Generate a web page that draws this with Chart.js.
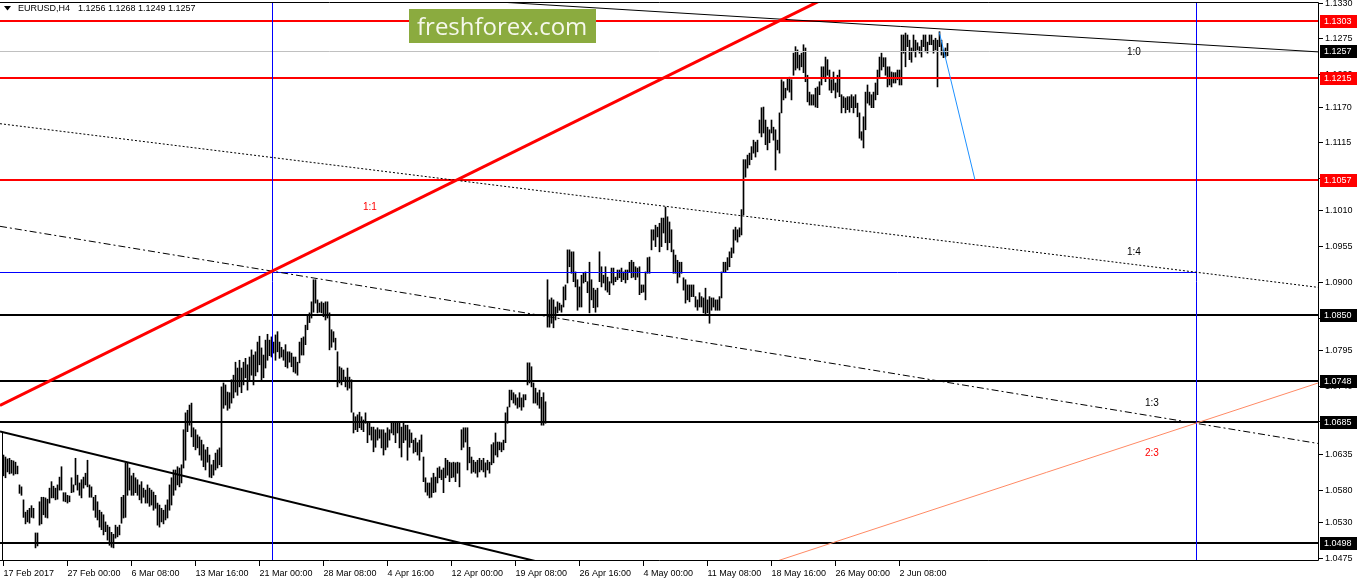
<!DOCTYPE html>
<html>
<head>
<meta charset="utf-8">
<script src="https://cdn.jsdelivr.net/npm/chart.js@4.4.0/dist/chart.umd.min.js"></script>
<style>
html,body{margin:0;padding:0;background:#fff;}
#wrap{width:1358px;height:584px;position:relative;}
</style>
</head>
<body>
<div id="wrap"><canvas id="c" width="1358" height="584"></canvas></div>
<script>
// EURUSD H4, one entry per bar (17 Feb 2017 16:00 ... 8 Jun 2017)
var highs = [
1.0634,1.0631,1.0628,1.0629,1.0626,1.0625,1.0623,1.0617,1.0588,1.0585,
1.0565,1.0546,1.0549,1.0552,1.0556,1.0552,1.0514,1.0514,1.0562,1.0569,
1.0569,1.0568,1.0566,1.0583,1.0593,1.0586,1.0583,1.0588,1.0600,1.0616,
1.0576,1.0576,1.0572,1.0571,1.0599,1.0588,1.0629,1.0603,1.0591,1.0596,
1.0600,1.0606,1.0626,1.0588,1.0585,1.0569,1.0572,1.0562,1.0549,1.0546,
1.0542,1.0531,1.0526,1.0523,1.0515,1.0512,1.0526,1.0523,1.0526,1.0569,
1.0572,1.0622,1.0622,1.0614,1.0602,1.0606,1.0599,1.0596,1.0588,1.0593,
1.0583,1.0580,1.0588,1.0583,1.0580,1.0577,1.0572,1.0560,1.0557,1.0552,
1.0549,1.0557,1.0565,1.0588,1.0599,1.0611,1.0611,1.0616,1.0614,1.0619,
1.0673,1.0699,1.0703,1.0711,1.0714,1.0676,1.0673,1.0665,1.0662,1.0657,
1.0650,1.0642,1.0646,1.0634,1.0619,1.0626,1.0637,1.0642,1.0645,1.0739,
1.0745,1.0742,1.0731,1.0730,1.0750,1.0757,1.0777,1.0768,1.0780,1.0768,
1.0777,1.0783,1.0773,1.0785,1.0796,1.0788,1.0793,1.0808,1.0817,1.0799,
1.0788,1.0811,1.0820,1.0811,1.0816,1.0808,1.0819,1.0824,1.0808,1.0800,
1.0796,1.0804,1.0793,1.0793,1.0791,1.0785,1.0785,1.0777,1.0808,1.0814,
1.0816,1.0834,1.0850,1.0853,1.0870,1.0904,1.0904,1.0873,1.0868,1.0870,
1.0868,1.0870,1.0870,1.0853,1.0827,1.0824,1.0814,1.0793,1.0770,1.0768,
1.0765,1.0754,1.0768,1.0754,1.0750,1.0699,1.0693,1.0696,1.0700,1.0693,
1.0688,1.0699,1.0685,1.0683,1.0677,1.0677,1.0673,1.0676,1.0673,1.0673,
1.0673,1.0668,1.0676,1.0673,1.0683,1.0685,1.0685,1.0683,1.0683,1.0677,
1.0683,1.0680,1.0680,1.0673,1.0668,1.0657,1.0660,1.0653,1.0657,1.0665,
1.0631,1.0599,1.0591,1.0591,1.0599,1.0606,1.0600,1.0614,1.0616,1.0611,
1.0614,1.0629,1.0626,1.0623,1.0622,1.0623,1.0622,1.0623,1.0622,1.0673,
1.0676,1.0676,1.0676,1.0646,1.0631,1.0626,1.0623,1.0626,1.0629,1.0626,
1.0629,1.0622,1.0626,1.0623,1.0650,1.0653,1.0668,1.0654,1.0654,1.0653,
1.0657,1.0699,1.0708,1.0734,1.0734,1.0730,1.0727,1.0722,1.0730,1.0722,
1.0727,1.0727,1.0776,1.0776,1.0770,1.0745,1.0737,1.0730,1.0734,1.0723,
1.0730,1.0716,1.0904,1.0873,1.0876,1.0873,1.0862,1.0870,1.0868,1.0865,
1.0893,1.0896,1.0950,1.0950,1.0947,1.0947,1.0916,1.0904,1.0893,1.0911,
1.0914,1.0916,1.0901,1.0931,1.0904,1.0891,1.0888,1.0891,1.0947,1.0924,
1.0911,1.0924,1.0908,1.0901,1.0922,1.0922,1.0908,1.0919,1.0919,1.0922,
1.0916,1.0919,1.0919,1.0931,1.0934,1.0931,1.0924,1.0922,1.0924,1.0896,
1.0896,1.0916,1.0938,1.0939,1.0981,1.0981,1.0988,1.0985,1.0991,1.0999,
1.0999,1.1016,1.1001,1.0993,1.0981,1.0950,1.0942,1.0934,1.0931,1.0931,
1.0907,1.0904,1.0896,1.0896,1.0896,1.0896,1.0878,1.0873,1.0884,1.0878,
1.0876,1.0891,1.0873,1.0878,1.0876,1.0876,1.0873,1.0873,1.0878,1.0916,
1.0931,1.0931,1.0938,1.0947,1.0953,1.0981,1.0985,1.0981,1.0984,1.1012,
1.1089,1.1089,1.1096,1.1099,1.1109,1.1119,1.1116,1.1119,1.1150,1.1169,
1.1170,1.1150,1.1139,1.1135,1.1150,1.1139,1.1135,1.1119,1.1161,1.1212,
1.1209,1.1199,1.1215,1.1216,1.1212,1.1253,1.1263,1.1258,1.1250,1.1253,
1.1266,1.1261,1.1219,1.1193,1.1189,1.1189,1.1199,1.1201,1.1209,1.1232,
1.1232,1.1247,1.1243,1.1227,1.1212,1.1224,1.1207,1.1219,1.1227,1.1189,
1.1186,1.1184,1.1186,1.1186,1.1189,1.1186,1.1189,1.1176,1.1161,1.1132,
1.1155,1.1193,1.1204,1.1193,1.1189,1.1193,1.1207,1.1227,1.1247,1.1253,
1.1246,1.1246,1.1232,1.1232,1.1224,1.1223,1.1223,1.1227,1.1227,1.1281,
1.1281,1.1284,1.1281,1.1273,1.1261,1.1281,1.1273,1.1269,1.1263,1.1273,
1.1281,1.1281,1.1270,1.1281,1.1281,1.1273,1.1276,1.1273,1.1286,1.1273,
1.1258,1.1261,1.1268
];
var lows = [
1.0602,1.0599,1.0608,1.0605,1.0606,1.0603,1.0605,1.0605,1.0575,1.0572,
1.0538,1.0528,1.0531,1.0529,1.0538,1.0537,1.0491,1.0494,1.0526,1.0528,
1.0542,1.0538,1.0537,1.0560,1.0568,1.0568,1.0565,1.0566,1.0580,1.0580,
1.0563,1.0562,1.0560,1.0562,1.0576,1.0577,1.0588,1.0580,1.0572,1.0568,
1.0583,1.0588,1.0585,1.0569,1.0569,1.0549,1.0538,1.0534,1.0523,1.0519,
1.0511,1.0516,1.0503,1.0495,1.0492,1.0491,1.0506,1.0508,1.0511,1.0529,
1.0537,1.0538,1.0572,1.0580,1.0572,1.0572,1.0576,1.0572,1.0565,1.0560,
1.0569,1.0560,1.0560,1.0555,1.0557,1.0549,1.0552,1.0526,1.0523,1.0531,
1.0528,1.0534,1.0537,1.0549,1.0557,1.0572,1.0580,1.0588,1.0585,1.0591,
1.0614,1.0626,1.0670,1.0680,1.0662,1.0647,1.0642,1.0645,1.0634,1.0626,
1.0616,1.0611,1.0623,1.0600,1.0599,1.0603,1.0611,1.0614,1.0619,1.0616,
1.0706,1.0711,1.0703,1.0706,1.0714,1.0722,1.0731,1.0726,1.0739,1.0730,
1.0742,1.0753,1.0734,1.0747,1.0757,1.0742,1.0756,1.0762,1.0773,1.0750,
1.0753,1.0768,1.0780,1.0787,1.0785,1.0791,1.0780,1.0793,1.0783,1.0785,
1.0780,1.0770,1.0768,1.0777,1.0770,1.0762,1.0760,1.0757,1.0776,1.0788,
1.0788,1.0804,1.0827,1.0838,1.0845,1.0854,1.0868,1.0853,1.0854,1.0853,
1.0847,1.0842,1.0845,1.0796,1.0800,1.0808,1.0796,1.0739,1.0745,1.0742,
1.0747,1.0739,1.0734,1.0737,1.0700,1.0668,1.0673,1.0670,1.0676,1.0673,
1.0670,1.0683,1.0653,1.0665,1.0657,1.0639,1.0646,1.0657,1.0660,1.0645,
1.0634,1.0642,1.0646,1.0657,1.0668,1.0665,1.0653,1.0668,1.0645,1.0631,
1.0653,1.0657,1.0626,1.0646,1.0653,1.0637,1.0639,1.0634,1.0626,1.0639,
1.0593,1.0577,1.0572,1.0568,1.0569,1.0576,1.0577,1.0591,1.0599,1.0596,
1.0576,1.0599,1.0603,1.0593,1.0599,1.0600,1.0593,1.0606,1.0585,1.0642,
1.0646,1.0654,1.0611,1.0622,1.0606,1.0608,1.0606,1.0600,1.0608,1.0611,
1.0608,1.0600,1.0611,1.0606,1.0619,1.0622,1.0634,1.0631,1.0642,1.0639,
1.0642,1.0653,1.0683,1.0708,1.0719,1.0714,1.0711,1.0706,1.0708,1.0703,
1.0708,1.0719,1.0742,1.0745,1.0739,1.0714,1.0714,1.0711,1.0706,1.0680,
1.0680,1.0683,1.0831,1.0831,1.0837,1.0830,1.0842,1.0853,1.0857,1.0854,
1.0862,1.0873,1.0899,1.0924,1.0914,1.0901,1.0893,1.0857,1.0862,1.0862,
1.0899,1.0901,1.0884,1.0853,1.0873,1.0861,1.0854,1.0862,1.0901,1.0893,
1.0899,1.0888,1.0885,1.0881,1.0899,1.0896,1.0901,1.0904,1.0907,1.0901,
1.0904,1.0899,1.0904,1.0916,1.0907,1.0908,1.0904,1.0908,1.0881,1.0884,
1.0885,1.0873,1.0914,1.0914,1.0950,1.0965,1.0955,1.0970,1.0947,1.0955,
1.0976,1.0961,1.0950,1.0961,1.0947,1.0914,1.0914,1.0899,1.0908,1.0914,
1.0888,1.0868,1.0873,1.0870,1.0878,1.0878,1.0862,1.0857,1.0862,1.0862,
1.0853,1.0850,1.0853,1.0837,1.0857,1.0862,1.0857,1.0857,1.0857,1.0876,
1.0916,1.0916,1.0919,1.0924,1.0938,1.0945,1.0965,1.0962,1.0970,1.0973,
1.1004,1.1062,1.1076,1.1081,1.1089,1.1099,1.1093,1.1101,1.1130,1.1124,
1.1130,1.1112,1.1104,1.1115,1.1130,1.1119,1.1073,1.1104,1.1099,1.1161,
1.1181,1.1184,1.1196,1.1193,1.1181,1.1219,1.1227,1.1230,1.1227,1.1232,
1.1223,1.1209,1.1178,1.1173,1.1173,1.1173,1.1170,1.1169,1.1189,1.1204,
1.1216,1.1209,1.1219,1.1196,1.1192,1.1196,1.1184,1.1193,1.1186,1.1161,
1.1169,1.1161,1.1166,1.1162,1.1169,1.1161,1.1169,1.1155,1.1122,1.1119,
1.1107,1.1135,1.1176,1.1173,1.1169,1.1169,1.1181,1.1189,1.1216,1.1227,
1.1232,1.1219,1.1201,1.1204,1.1201,1.1207,1.1207,1.1212,1.1204,1.1204,
1.1253,1.1232,1.1263,1.1243,1.1239,1.1255,1.1247,1.1258,1.1253,1.1247,
1.1263,1.1255,1.1253,1.1266,1.1266,1.1253,1.1258,1.1201,1.1263,1.1250,
1.1246,1.1247,1.1249
];
var lastBar = [1.1256, 1.1268, 1.1249, 1.1257]; // open high low close
// one time label every 32 bars
var timeLabels = ['17 Feb 2017','27 Feb 00:00','6 Mar 08:00','13 Mar 16:00','21 Mar 00:00',
  '28 Mar 08:00','4 Apr 16:00','12 Apr 00:00','19 Apr 08:00','26 Apr 16:00','4 May 00:00',
  '11 May 08:00','18 May 16:00','26 May 00:00','2 Jun 08:00'];
var priceTicks = [1.1330,1.1275,1.1220,1.1170,1.1115,1.1060,1.1010,1.0955,1.0900,1.0845,
  1.0795,1.0740,1.0685,1.0635,1.0580,1.0530,1.0475];
var redLevels = [1.1303, 1.1215, 1.1057];
var blackLevels = [1.0850, 1.0748, 1.0685, 1.0498];
var blueLevel = 1.09159;
var blueMarks = [134.25, 596.25]; // bar index of the two vertical lines
var leftMark = [-0.5, 1.0669]; // short vertical at the left edge, from this price down
// trendlines, two points each [bar index, price]
var redTrend = [[0, 1.07130], [400, 1.13212]];
var line10 = [[300, 1.13220], [600, 1.12657]];
var line14 = [[0, 1.11437], [600, 1.09142]];
var line13 = [[0, 1.09854], [600, 1.06809]];
var lowTrend = [[0, 1.06690], [200, 1.05199]];
var line23 = [[400, 1.04842], [600, 1.06869]];
var forecast = [[467.9, 1.12851], [485.75, 1.10576]];
var fanNames = ['1:0', '1:4', '1:3', '2:3', '1:1'];
var fanPos = [[561.75, 1.12548], [561.75, 1.09467], [570.75, 1.07141], [570.75, 1.06371], [179.75, 1.10160]];

var FONT = '9px "Liberation Sans", Arial, sans-serif';

var overlay = {
	id: 'overlay',
	afterDatasetsDraw: function(chart) {
		var ctx = chart.ctx, a = chart.chartArea;
		var xs = chart.scales.x, ys = chart.scales.y;
		function X(v){ return xs.getPixelForValue(v); }
		function Y(v){ return ys.getPixelForValue(v); }
		function hline(p, color, w, x2) {
			var y = Math.round(Y(p)) + (w % 2 ? 0.5 : 0);
			ctx.strokeStyle = color; ctx.lineWidth = w; ctx.setLineDash([]);
			ctx.beginPath(); ctx.moveTo(a.left, y); ctx.lineTo(x2 || a.right, y); ctx.stroke();
		}
		function ray(pts, color, w, dash) {
			var x1 = X(pts[0][0]), y1 = Y(pts[0][1]), x2 = X(pts[1][0]), y2 = Y(pts[1][1]);
			var k = (y2 - y1) / (x2 - x1);
			ctx.strokeStyle = color; ctx.lineWidth = w; ctx.setLineDash(dash || []);
			ctx.beginPath();
			ctx.moveTo(a.left, y1 + k * (a.left - x1));
			ctx.lineTo(a.right, y1 + k * (a.right - x1));
			ctx.stroke();
		}

		ctx.save();
		ctx.beginPath(); ctx.rect(a.left, a.top, a.right - a.left, a.bottom - a.top); ctx.clip();

		hline(lastBar[3], '#c0c0c0', 1);
		redLevels.forEach(function(p){ hline(p, '#ff0000', 2); });
		blackLevels.forEach(function(p){ hline(p, '#000000', 2); });
		hline(blueLevel, '#0000ff', 1, Math.floor(X(blueMarks[1])) + 1);
		blueMarks.forEach(function(v){
			var x = Math.floor(X(v)) + 0.5;
			ctx.strokeStyle = '#0000ff'; ctx.lineWidth = 1; ctx.setLineDash([]);
			ctx.beginPath(); ctx.moveTo(x, a.top); ctx.lineTo(x, a.bottom); ctx.stroke();
		});
		ctx.strokeStyle = '#000'; ctx.lineWidth = 1;
		ctx.beginPath();
		ctx.moveTo(Math.floor(X(leftMark[0])) + 0.5, Y(leftMark[1]));
		ctx.lineTo(Math.floor(X(leftMark[0])) + 0.5, a.bottom);
		ctx.stroke();

		ray(line10, '#000000', 1);
		ray(line14, '#000000', 1, [2, 2]);
		ray(line13, '#000000', 1, [7, 3, 2, 3]);
		ray(lowTrend, '#000000', 2);
		ray(line23, '#ff8a65', 1);
		ray(redTrend, '#ff0000', 3);

		// forecast segment
		ctx.strokeStyle = '#1e90ff'; ctx.lineWidth = 1; ctx.setLineDash([]);
		ctx.beginPath();
		ctx.moveTo(X(forecast[0][0]), Y(forecast[0][1]));
		ctx.lineTo(X(forecast[1][0]), Y(forecast[1][1]));
		ctx.stroke();

		ctx.font = '10px "Liberation Sans", Arial, sans-serif';
		ctx.textBaseline = 'middle'; ctx.textAlign = 'left';
		fanNames.forEach(function(t, i){
			ctx.fillStyle = (t == '2:3' || t == '1:1') ? '#ff0000' : '#000000';
			ctx.fillText(t, X(fanPos[i][0]), Y(fanPos[i][1]));
		});
		ctx.restore();

		// frame
		ctx.save();
		ctx.strokeStyle = '#000'; ctx.lineWidth = 1; ctx.setLineDash([]);
		ctx.beginPath();
		ctx.moveTo(a.left, a.top + 0.5); ctx.lineTo(a.right - 0.5, a.top + 0.5);
		ctx.lineTo(a.right - 0.5, a.bottom - 0.5); ctx.lineTo(a.left, a.bottom - 0.5);
		ctx.stroke();

		// price boxes on the axis
		function box(p, color) {
			var y = Math.round(Y(p));
			ctx.fillStyle = color;
			ctx.fillRect(a.right + 1, y - 6, 37, 13);
			ctx.fillStyle = '#fff'; ctx.font = FONT;
			ctx.textBaseline = 'middle'; ctx.textAlign = 'left';
			ctx.fillText(p.toFixed(4), a.right + 5, y + 0.5);
		}
		redLevels.forEach(function(p){ box(p, '#ff0000'); });
		blackLevels.forEach(function(p){ box(p, '#000000'); });
		box(lastBar[3], '#000000');

		// header
		ctx.fillStyle = '#000';
		ctx.beginPath(); ctx.moveTo(4, 6); ctx.lineTo(11, 6); ctx.lineTo(7.5, 10.5); ctx.closePath(); ctx.fill();
		ctx.font = FONT; ctx.textBaseline = 'middle'; ctx.textAlign = 'left';
		ctx.fillText('EURUSD,H4', 18, 9);
		ctx.fillText(lastBar.map(function(v){ return v.toFixed(4); }).join(' '), 78, 9);

		// logo
		ctx.fillStyle = '#8bab3f';
		ctx.fillRect(409, 9, 187, 34);
		ctx.fillStyle = '#f6f8ec';
		ctx.font = '24px "Open Sans", sans-serif';
		ctx.textBaseline = 'alphabetic';
		ctx.fillText('freshforex.com', 417, 35);
		ctx.restore();
	}
};

var bars = highs.map(function(h, i){ return {x: i, y: [lows[i], h]}; });

new Chart(document.getElementById('c'), {
	type: 'bar',
	data: {
		datasets: [{
			data: bars,
			backgroundColor: '#000000',
			borderWidth: 0,
			barThickness: 1,
			maxBarThickness: 1
		}]
	},
	options: {
		responsive: false,
		animation: false,
		layout: { padding: { top: 2, left: 0, right: 0, bottom: 0 } },
		plugins: { legend: { display: false }, tooltip: { enabled: false } },
		scales: {
			x: {
				type: 'linear', min: -1.75, max: 657.75, offset: false,
				border: { display: false },
				grid: { drawOnChartArea: false, offset: false, tickLength: 5, color: '#000', lineWidth: 1 },
				ticks: {
					align: 'start', padding: 2, color: '#000', autoSkip: false, maxRotation: 0, minRotation: 0,
					font: { family: '"Liberation Sans", Arial, sans-serif', size: 9 },
					callback: function(v, i){ return timeLabels[i]; }
				},
				afterBuildTicks: function(s){ s.ticks = timeLabels.map(function(t, k){ return {value: k * 32}; }); },
				afterFit: function(s){ s.height = 23; s.paddingLeft = 0; s.paddingRight = 0; }
			},
			y: {
				position: 'right', min: 1.04708, max: 1.13318,
				border: { display: false },
				grid: { drawOnChartArea: false, tickLength: 4, color: '#000', lineWidth: 1 },
				ticks: {
					padding: 2, color: '#000', autoSkip: false,
					font: { family: '"Liberation Sans", Arial, sans-serif', size: 9 },
					callback: function(v){ return v.toFixed(4); }
				},
				afterBuildTicks: function(s){ s.ticks = priceTicks.map(function(v){ return {value: v}; }); },
				afterFit: function(s){ s.width = 39; s.paddingTop = 0; s.paddingBottom = 0; }
			}
		}
	},
	plugins: [overlay]
});
</script>
</body>
</html>
